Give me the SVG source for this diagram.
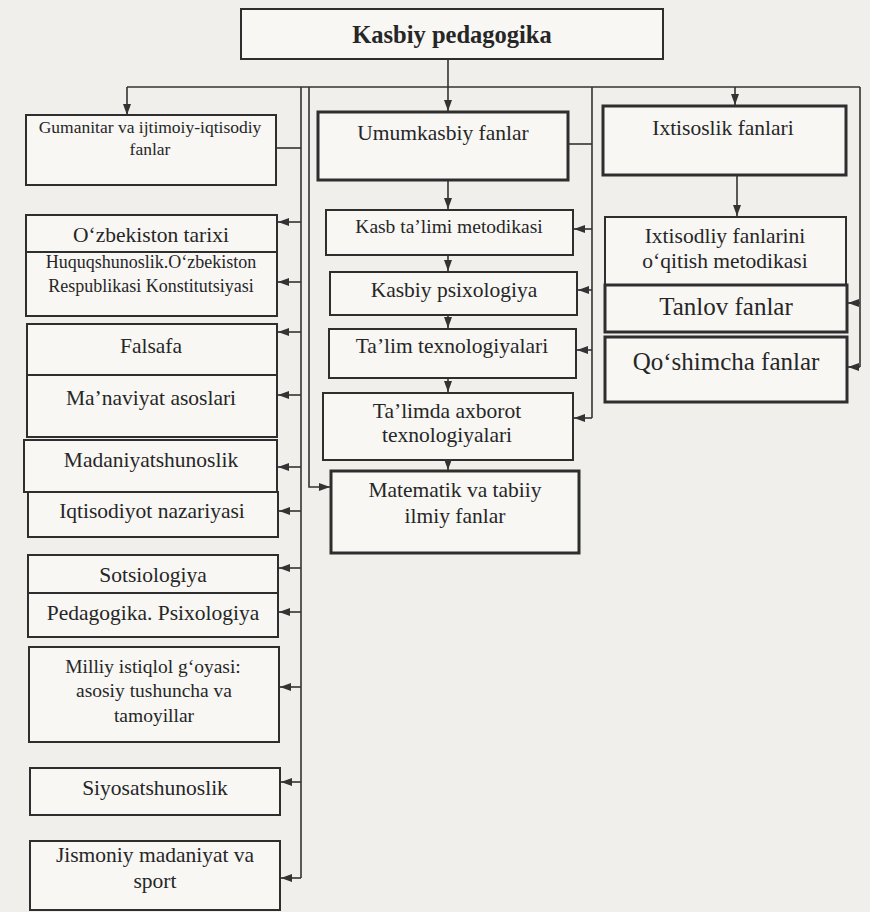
<svg xmlns="http://www.w3.org/2000/svg" width="870" height="912" viewBox="0 0 870 912">
<defs>
<marker id="ah" markerWidth="11" markerHeight="8" refX="11" refY="4" orient="auto" markerUnits="userSpaceOnUse">
<path d="M0,0 L11,4 L0,8 z" fill="#333"/>
</marker>
<style>
.bg{fill:#f0efeb}
.b{fill:#f8f7f4;stroke:#2e2e2e;stroke-width:2}
.bt{fill:#f8f7f4;stroke:#2e2e2e;stroke-width:3}
.c{fill:none;stroke:#333;stroke-width:1.6}
.a{fill:none;stroke:#333;stroke-width:1.6;marker-end:url(#ah)}
text{font-family:"Liberation Serif","Times New Roman",serif;fill:#262626;text-anchor:middle}
.t{font-size:21.5px}
.s{font-size:18px}
.g{font-size:17.5px}
.m{font-size:19.5px}
.l{font-size:25px}
.h{font-size:24.5px;font-weight:bold}
</style>
</defs>
<rect class="bg" x="0" y="0" width="870" height="912"/>

<g id="n-kasbiy-pedagogika"><rect class="b" x="241" y="9" width="422" height="50"/><text class="h" x="452" y="43">Kasbiy pedagogika</text></g>

<g id="n-gumanitar"><rect class="b" x="26" y="115" width="250" height="70"/><text class="g" x="150" y="133">Gumanitar va ijtimoiy-iqtisodiy</text><text class="g" x="150" y="155">fanlar</text></g>
<g id="n-tarix"><rect class="b" x="26" y="215" width="251" height="37"/><text class="t" x="151" y="242">O‘zbekiston tarixi</text></g>
<g id="n-huquq"><rect class="b" x="26" y="252" width="251" height="64"/><text class="s" x="151" y="268">Huquqshunoslik.O‘zbekiston</text><text class="s" x="151" y="292">Respublikasi Konstitutsiyasi</text></g>
<g id="n-falsafa"><rect class="b" x="27" y="324" width="250" height="51"/><text class="t" x="151" y="353">Falsafa</text></g>
<g id="n-manaviyat"><rect class="b" x="27" y="375" width="250" height="62"/><text class="t" x="151" y="405">Ma’naviyat asoslari</text></g>
<g id="n-madaniyat"><rect class="b" x="24" y="440" width="253" height="52"/><text class="t" x="151" y="467">Madaniyatshunoslik</text></g>
<g id="n-iqtisodiyot"><rect class="b" x="28" y="492" width="250" height="45"/><text class="t" x="152" y="518">Iqtisodiyot nazariyasi</text></g>
<g id="n-sotsiologiya"><rect class="b" x="28" y="555" width="250" height="38"/><text class="t" x="153" y="582">Sotsiologiya</text></g>
<g id="n-pedpsix"><rect class="b" x="28" y="593" width="250" height="44"/><text class="t" x="153" y="620">Pedagogika. Psixologiya</text></g>
<g id="n-milliy"><rect class="b" x="29" y="647" width="250" height="95"/><text class="m" x="153" y="673">Milliy istiqlol g‘oyasi:</text><text class="m" x="154" y="697">asosiy tushuncha va</text><text class="m" x="154" y="722">tamoyillar</text></g>
<g id="n-siyosat"><rect class="b" x="30" y="768" width="250" height="47"/><text class="t" x="155" y="795">Siyosatshunoslik</text></g>
<g id="n-jismoniy"><rect class="b" x="30" y="841" width="250" height="69"/><text class="t" x="155" y="862">Jismoniy madaniyat va</text><text class="t" x="155" y="888">sport</text></g>

<g id="n-umumkasbiy"><rect class="bt" x="318" y="112" width="250" height="68"/><text class="t" x="443" y="140">Umumkasbiy fanlar</text></g>
<g id="n-kasb-metod"><rect class="b" x="326" y="210" width="247" height="45"/><text class="m" x="449" y="233">Kasb ta’limi metodikasi</text></g>
<g id="n-kasb-psix"><rect class="b" x="330" y="272" width="247" height="43"/><text class="t" x="454" y="297">Kasbiy psixologiya</text></g>
<g id="n-talim-tex"><rect class="b" x="329" y="329" width="247" height="49"/><text class="t" x="452" y="353">Ta’lim texnologiyalari</text></g>
<g id="n-axborot"><rect class="b" x="323" y="393" width="250" height="67"/><text class="t" x="447" y="418">Ta’limda axborot</text><text class="t" x="447" y="442">texnologiyalari</text></g>
<g id="n-matematik"><rect class="bt" x="331" y="471" width="248" height="82"/><text class="t" x="455" y="497">Matematik va tabiiy</text><text class="t" x="455" y="523">ilmiy fanlar</text></g>

<g id="n-ixtisoslik"><rect class="bt" x="603" y="106" width="243" height="69"/><text class="t" x="723" y="135">Ixtisoslik fanlari</text></g>
<g id="n-ixt-metod"><rect class="b" x="605" y="217" width="241" height="68"/><text class="t" x="725" y="243">Ixtisodliy fanlarini</text><text class="t" x="725" y="268">o‘qitish metodikasi</text></g>
<g id="n-tanlov"><rect class="bt" x="605" y="285" width="242" height="47"/><text class="l" x="726" y="315">Tanlov fanlar</text></g>
<g id="n-qoshimcha"><rect class="bt" x="605" y="337" width="242" height="65"/><text class="l" x="726" y="370">Qo‘shimcha fanlar</text></g>

<g id="connectors">
<path class="c" d="M127,87 H860"/>
<path class="a" d="M127,87 V115"/>
<path class="a" d="M448,59 V111"/>
<path class="c" d="M276,148 H301"/>
<path class="c" d="M301,87 V878"/>
<path class="a" d="M309,87 V487 H330"/>
<path class="a" d="M301,222 H278"/>
<path class="a" d="M301,282 H278"/>
<path class="a" d="M301,332 H278"/>
<path class="a" d="M301,395 H278"/>
<path class="a" d="M301,467 H278"/>
<path class="a" d="M301,511 H279"/>
<path class="a" d="M301,568 H279"/>
<path class="a" d="M301,612 H279"/>
<path class="a" d="M301,687 H280"/>
<path class="a" d="M301,782 H281"/>
<path class="a" d="M301,878 H281"/>
<path class="a" d="M448,181 V209"/>
<path class="a" d="M448,256 V271"/>
<path class="a" d="M448,316 V328"/>
<path class="a" d="M448,379 V392"/>
<path class="a" d="M448,461 V470"/>
<path class="c" d="M568,144 H592"/>
<path class="c" d="M592,87 V418"/>
<path class="a" d="M592,229 H574"/>
<path class="a" d="M592,290 H578"/>
<path class="a" d="M592,350 H577"/>
<path class="a" d="M592,418 H574"/>
<path class="a" d="M735,87 V105"/>
<path class="a" d="M737,176 V216"/>
<path class="c" d="M860,87 V367"/>
<path class="a" d="M860,303 H848"/>
<path class="a" d="M860,367 H848"/>
</g>
</svg>
